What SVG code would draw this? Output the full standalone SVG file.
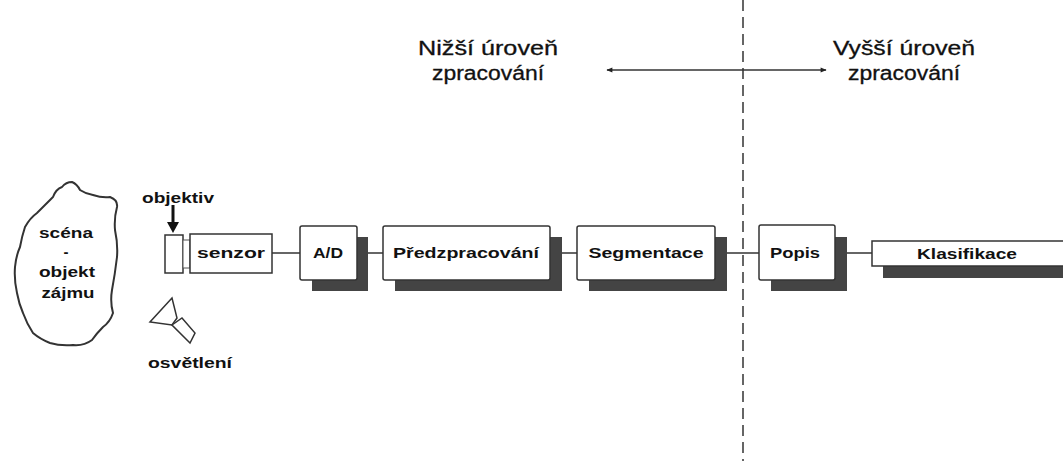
<svg xmlns="http://www.w3.org/2000/svg" width="1063" height="461" viewBox="0 0 1063 461">
<style>
.box{fill:#fff;stroke:#333;stroke-width:1.5}
.sh{fill:#444}
.lbl{font-family:"Liberation Sans",Arial,sans-serif;font-weight:bold;font-size:15px;fill:#111}
.top{font-family:"Liberation Sans",Arial,sans-serif;font-size:20px;fill:#111;stroke:#111;stroke-width:0.3}
.ln{stroke:#333;stroke-width:1.5;fill:none}
</style>
<defs>
<marker id="ah" viewBox="0 0 10 10" refX="9" refY="5" markerWidth="7" markerHeight="6" orient="auto-start-reverse" markerUnits="userSpaceOnUse">
<path d="M0,1 L10,5 L0,9 z" fill="#222"/>
</marker>
</defs>
<rect width="1063" height="461" fill="#fff"/>

<g id="connectors">
<line x1="743" y1="0" x2="743" y2="461" stroke="#333" stroke-width="1.5" stroke-dasharray="11,6"/>
<line class="ln" x1="607" y1="70" x2="826" y2="70" marker-start="url(#ah)" marker-end="url(#ah)"/>
<line class="ln" x1="272" y1="253" x2="300" y2="253"/>
<line class="ln" x1="357" y1="253" x2="383" y2="253"/>
<line class="ln" x1="550" y1="253" x2="577" y2="253"/>
<line class="ln" x1="715" y1="253" x2="759" y2="253"/>
<line class="ln" x1="835" y1="253" x2="872" y2="253"/>
<line x1="173" y1="205" x2="173" y2="224" stroke="#111" stroke-width="3"/>
<path d="M167,222 L179,222 L173,233 z" fill="#111"/>
</g>

<g id="levels">
<text class="top" x="488" y="55" text-anchor="middle" textLength="140" lengthAdjust="spacingAndGlyphs">Nižší úroveň</text>
<text class="top" x="488" y="80" text-anchor="middle" textLength="112" lengthAdjust="spacingAndGlyphs">zpracování</text>
<text class="top" x="904" y="55" text-anchor="middle" textLength="142" lengthAdjust="spacingAndGlyphs">Vyšší úroveň</text>
<text class="top" x="904" y="80" text-anchor="middle" textLength="112" lengthAdjust="spacingAndGlyphs">zpracování</text>
</g>

<g id="scene">
<path d="M53,197 Q56,189 62,187 Q66,182 72,182 Q77,184 80,190 Q86,194 93,195 Q102,198 110,197 Q118,200 117,207 Q114,218 115,230 Q118,244 117,257 Q115,274 112,290 Q110,302 113,313 Q110,322 103,327 Q97,333 92,340 Q84,346 73,345 Q60,346 50,343 Q40,339 33,333 Q27,324 23,313 Q19,304 17,293 Q14,280 15,267 Q16,256 20,247 Q22,236 25,227 Q30,218 37,213 Q44,206 50,200 Z" fill="none" stroke="#333" stroke-width="2"/>
<text class="lbl" x="66" y="238" text-anchor="middle" textLength="54" lengthAdjust="spacingAndGlyphs">scéna</text>
<text class="lbl" x="66" y="257" text-anchor="middle">-</text>
<text class="lbl" x="67" y="277" text-anchor="middle" textLength="56" lengthAdjust="spacingAndGlyphs">objekt</text>
<text class="lbl" x="68" y="298" text-anchor="middle" textLength="53" lengthAdjust="spacingAndGlyphs">zájmu</text>
</g>

<g id="objektiv">
<text class="lbl" x="178" y="203" text-anchor="middle" textLength="72" lengthAdjust="spacingAndGlyphs">objektiv</text>
<rect x="165" y="235" width="18" height="38" fill="#fff" stroke="#333" stroke-width="1.5"/>
<rect x="183" y="240" width="7" height="28" fill="#fff" stroke="#555" stroke-width="1"/>
</g>

<g id="senzor">
<rect class="box" x="190" y="234" width="82" height="39"/>
<text class="lbl" x="231" y="258" text-anchor="middle" textLength="68" lengthAdjust="spacingAndGlyphs">senzor</text>
</g>

<g id="osvetleni">
<path d="M172,298 L150,322 L172,325 L177,318 Z" fill="#fff" stroke="#333" stroke-width="1.5"/>
<path d="M172,325 L182,318 L195,333 L190,343 Z" fill="#fff" stroke="#333" stroke-width="1.5"/>
<text class="lbl" x="190" y="368" text-anchor="middle" textLength="84" lengthAdjust="spacingAndGlyphs">osvětlení</text>
</g>

<g id="ad">
<rect class="sh" x="312" y="237" width="56" height="54"/>
<rect class="box" x="300" y="226" width="57" height="54" rx="2"/>
<text class="lbl" x="328" y="258" text-anchor="middle" textLength="30" lengthAdjust="spacingAndGlyphs">A/D</text>
</g>

<g id="predzpracovani">
<rect class="sh" x="395" y="237" width="167" height="54"/>
<rect class="box" x="383" y="226" width="167" height="54" rx="2"/>
<text class="lbl" x="466" y="258" text-anchor="middle" textLength="146" lengthAdjust="spacingAndGlyphs">Předzpracování</text>
</g>

<g id="segmentace">
<rect class="sh" x="589" y="237" width="138" height="54"/>
<rect class="box" x="577" y="226" width="138" height="54" rx="2"/>
<text class="lbl" x="646" y="258" text-anchor="middle" textLength="115" lengthAdjust="spacingAndGlyphs">Segmentace</text>
</g>

<g id="popis">
<rect class="sh" x="771" y="237" width="76" height="54"/>
<rect class="box" x="759" y="225" width="76" height="55" rx="2"/>
<text class="lbl" x="795" y="258" text-anchor="middle" textLength="50" lengthAdjust="spacingAndGlyphs">Popis</text>
</g>

<g id="klasifikace">
<rect class="sh" x="883" y="252" width="190" height="26"/>
<rect class="box" x="872" y="241" width="200" height="25"/>
<text class="lbl" x="967" y="259" text-anchor="middle" textLength="100" lengthAdjust="spacingAndGlyphs">Klasifikace</text>
</g>
</svg>
